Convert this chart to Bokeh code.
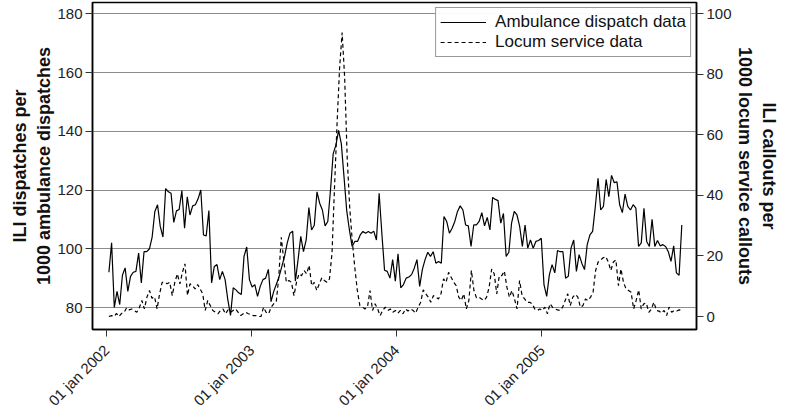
import pandas as pd
from bokeh.plotting import figure
from bokeh.models import (Range1d, LinearAxis, FixedTicker, CustomJSTickFormatter,
                          Legend, LegendItem, ColumnDataSource)
from bokeh.embed import file_html
from bokeh.resources import INLINE

# ---------------- data (weekly) ----------------
ambulance = [
    92, 102, 80, 85.5, 81, 91, 93.5, 85.5, 90.6, 92, 92.3, 98.5, 88.4, 99, 99, 100, 104, 112.7, 115, 107.6,
    104, 120.5, 119.4, 118.9, 109, 112.9, 113.4, 119.8, 107, 117.7, 111.5, 114.6, 115, 117, 120, 104.7, 104.4,
    113, 88.4, 94, 94.6, 89.5, 92.3,
    89.5, 82.7, 77.3, 86.7, 86, 85, 84.4, 97.4, 100.6, 89.5, 87, 87.8, 83.8, 87.2, 89.5, 90, 93, 82, 85.5, 88,
    90.6, 94, 97.4, 102, 105.3, 106, 89, 96.3, 104.2, 99, 103, 114, 106.4, 108, 119.4, 115.5, 113.2, 107.8,
    109.3, 120, 132.4, 135.3, 140.3,
    135.8, 124.5, 113, 106.4, 100.8, 102.5, 102.5, 104.7, 105.9, 105.3, 105.9, 105.3, 106, 103, 118.9, 105.3,
    92.7, 92.3, 90, 96.3, 89, 98.3, 86.7, 87.8, 90, 90.4, 91.2, 93.4, 96.3, 87.2, 93, 96.3, 98.8, 97.4, 99,
    95.1, 95.7, 95.1, 111, 109.3, 105.3, 107, 109.3, 112.7, 114.6, 113.2,
    108.1, 107.8, 100.8, 108.1, 108.1, 109.3, 112.3, 107.8, 110.7, 106.4, 117.5, 116.8, 116.4, 108.7, 112,
    97.4, 98.8, 108.7, 112.7, 111.5, 107.6, 100.8, 108.1, 100.2, 103, 100.2, 102.5, 102.8, 103.6, 87.8, 83.8,
    91.2, 94.6, 91.8, 99.4, 99, 99, 90, 90.6, 100.2, 103, 92.3, 98, 95.1,
    92.9, 101.4, 104.7, 105.9, 114.4, 124, 113.2, 114.4, 123.6, 117.7, 125, 122.5, 122.8, 115, 112.3, 118.6,
    114.4, 113.2, 115, 113.8, 100.8, 102, 113.8, 102.5, 100.8, 110, 100.8, 102.8, 101, 101.4, 100.8, 99,
    95.7, 101, 91.8, 91, 108.1,
]
locum = [
    0, 0.3, 0, 1, 0, 1, 1.4, 2.9, 2.2, 2.5, 2, 1.4, 2.9, 5.3, 2.5, 6.4, 8.6, 6, 6.5, 2.5, 7.5, 11.3, 11.3,
    10.8, 11.3, 6.9, 11.3, 14.1, 10.8, 14.6, 17.4, 7, 10.8, 10.2, 9.1, 10.6, 9.1, 7.5, 2, 5.3, 3.6, 2, 1.4,
    0.9, 2, 2.5,
    0.9, 2.2, 1.4, 2, 2.5, 1.4, 0.3, 0.9, 1.4, 0.9, 0.7, 0.3, 0.3, 0, 0, 3.1, 1.4, 0.9, 3.1, 4.2, 4.7, 13,
    26.2, 18.5, 11.3, 11.9, 11.3, 6.9, 11.3, 14.1, 13.5, 15.2, 14.1, 16.9, 10.2, 11.3, 8.6, 10.8, 12.8, 11.9,
    11.3, 12.4,
    20.8, 42.6, 63.7, 82, 93.8, 79, 52.5, 36, 25, 16.2, 8.6, 3.6,
    3.1, 2.5, 3.1, 8.6, 2, 4.2, 2.5, 0.3, 2, 3.1, 2, 2.5, 1.4, 2, 1.1, 2, 0.9, 2.5, 1.8, 2.5, 2, 1.1, 3.1,
    4.7, 8.8, 7.5, 6.4, 4.7, 6.9, 6.4, 5.8, 7.5, 12.4, 11.3, 14.6, 13, 11.3, 10.2, 6.4, 5.3, 7.5,
    2.5, 5.3, 15.2, 8.6, 6.2, 6.4, 5.8, 5.3, 6.4, 9.7, 15.7, 14.1, 7.5, 13.5, 13.5, 15, 9.7, 6.4, 8.6, 5.8,
    2.5, 11.9, 6.9, 5.8, 4.7, 4.7, 4.2, 2.5, 2, 2.5, 2, 3.1, 0.9, 4.2, 3.1, 2.5, 2.2, 2, 3.1, 5.3, 7.5, 3.6,
    6.4, 7.3, 6.4, 3.1,
    3.6, 5.8, 5.3, 6.4, 8, 15.2, 18, 18.7, 19.4, 19.8, 18, 15.2, 18, 18.7, 10.2, 15.7, 11.3, 9.1, 8.6, 8,
    2.5, 5.3, 8.8, 2.5, 4.2, 4.4, 1.4, 2.5, 4.7, 2, 1.8, 1.1, 2, 0.3, 3.1, 1.4, 2, 1.8, 2.2, 2,
]
series_start = "2002-01-07"
series_end = "2005-12-19"
year_ticks = ["2002-01-01", "2003-01-01", "2004-01-01", "2005-01-01"]
left_ticks = [80, 100, 120, 140, 160, 180]
right_ticks = [0, 20, 40, 60, 80, 100]
legend_labels = ["Ambulance dispatch data", "Locum service data"]

amb_dates = pd.date_range(series_start, series_end, periods=len(ambulance))
loc_dates = pd.date_range(series_start, series_end, periods=len(locum))

FONT = "Liberation Sans"

p = figure(width=788, height=418, x_axis_type="datetime",
           x_range=Range1d(pd.Timestamp("2001-11-26 17:00"), pd.Timestamp("2006-01-25")),
           y_range=Range1d(72.51, 183.85),
           output_backend="svg", toolbar_location=None,
           min_border_top=2, min_border_left=92, min_border_right=92, min_border_bottom=89)
p.extra_y_ranges = {"right": Range1d(-4.29, 103.73)}

src_a = ColumnDataSource(dict(x=amb_dates, y=ambulance))
src_l = ColumnDataSource(dict(x=loc_dates, y=locum))
r_a = p.line("x", "y", source=src_a, line_color="black", line_width=1.2)
r_l = p.line("x", "y", source=src_l, line_color="black", line_width=1.2,
             line_dash="4 3", y_range_name="right")

right_axis = LinearAxis(y_range_name="right")
p.add_layout(right_axis, "right")

tick_ms = [pd.Timestamp(t).value // 10**6 for t in year_ticks]
p.xaxis.ticker = FixedTicker(ticks=tick_ms)
p.xaxis.formatter = CustomJSTickFormatter(code="""
const d = new Date(tick);
const m = ["jan","feb","mar","apr","may","jun","jul","aug","sep","oct","nov","dec"][d.getUTCMonth()];
return String(d.getUTCDate()).padStart(2, "0") + " " + m + " " + d.getUTCFullYear();
""")
p.xaxis.major_label_orientation = 0.785398

p.yaxis[0].ticker = FixedTicker(ticks=left_ticks)
right_axis.ticker = FixedTicker(ticks=right_ticks)

p.yaxis[0].axis_label = "ILI dispatches per\n1000 ambulance dispatches"
right_axis.axis_label = "ILI callouts per\n1000 locum service callouts"

for ax in [p.xaxis[0], p.yaxis[0], right_axis]:
    ax.axis_line_color = "black"
    ax.axis_line_width = 1.5
    ax.major_tick_line_color = "#333333"
    ax.major_tick_out = 7
    ax.major_tick_in = 0
    ax.minor_tick_line_color = None
    ax.major_label_text_font = FONT
    ax.major_label_text_font_size = "15px"
    ax.major_label_text_color = "#222222"
    ax.major_label_standoff = 3
    ax.axis_label_text_font = FONT
    ax.axis_label_text_font_style = "bold"
    ax.axis_label_text_font_size = "18px"
    ax.axis_label_text_color = "#111111"
    ax.axis_label_standoff = 0

p.xaxis.major_label_standoff = 11

p.xgrid.grid_line_color = None
p.ygrid.grid_line_color = "#8c8c8c"
p.ygrid.grid_line_width = 1
p.ygrid.ticker = FixedTicker(ticks=left_ticks)

p.outline_line_color = "black"
p.outline_line_width = 1.5
p.outline_line_alpha = 1
p.background_fill_color = "white"
p.border_fill_color = "white"

legend = Legend(items=[LegendItem(label=legend_labels[0], renderers=[r_a]),
                       LegendItem(label=legend_labels[1], renderers=[r_l])],
                location="top_right")
legend.label_text_font = FONT
legend.label_text_font_size = "17px"
legend.label_text_color = "#111111"
legend.border_line_color = "#333333"
legend.border_line_width = 1
legend.glyph_width = 46
legend.glyph_height = 18
legend.label_height = 18
legend.spacing = 0
legend.padding = 4
legend.margin = 5
legend.label_standoff = 9
p.add_layout(legend)

open("out.html", "w").write(file_html(p, INLINE))
